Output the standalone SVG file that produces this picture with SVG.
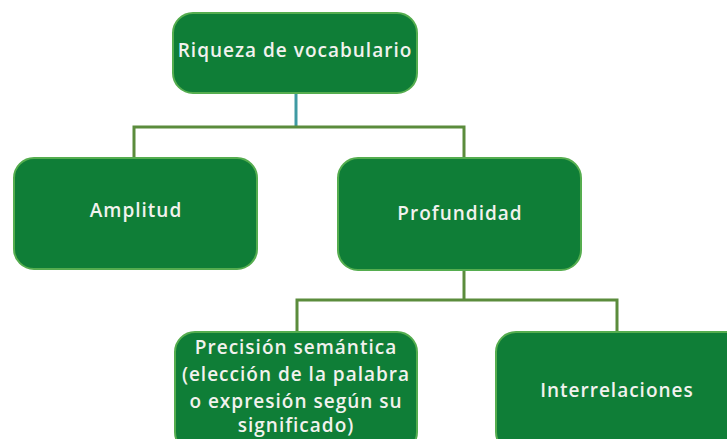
<svg xmlns="http://www.w3.org/2000/svg" width="727" height="439" viewBox="0 0 727 439">
<style>
.box{fill:#0f7e37;stroke:#55ad4f;stroke-width:2}
.t{font-family:"Open Sans","Liberation Sans",sans-serif;font-weight:600;font-size:19px;letter-spacing:1px;fill:#f2f2ee;text-anchor:middle}
.c{fill:none;stroke:#5b8c3c;stroke-width:3}
</style>
<rect width="727" height="439" fill="#ffffff"/>
<g id="connectors">
<line x1="296" y1="93" x2="296" y2="127" stroke="#3f9aa3" stroke-width="3"/>
<path class="c" d="M134 158 V127 H464 V158"/>
<path class="c" d="M464 270 V300"/>
<path class="c" d="M297 332 V300 H617 V332"/>
</g>
<g id="riqueza">
<rect class="box" x="173" y="13" width="244" height="80" rx="20"/>
<text class="t" x="295" y="57">Riqueza de vocabulario</text>
</g>
<g id="amplitud">
<rect class="box" x="14" y="158" width="243" height="111" rx="20"/>
<text class="t" x="136" y="217">Amplitud</text>
</g>
<g id="profundidad">
<rect class="box" x="338" y="158" width="243" height="112" rx="20"/>
<text class="t" x="460" y="220">Profundidad</text>
</g>
<g id="precision">
<rect class="box" x="175" y="332" width="242" height="120" rx="20"/>
<text class="t" x="296" y="354">Precisión semántica</text>
<text class="t" x="296" y="381">(elección de la palabra</text>
<text class="t" x="296" y="408">o expresión según su</text>
<text class="t" x="296" y="432">significado)</text>
</g>
<g id="interrelaciones">
<rect class="box" x="496" y="332" width="250" height="120" rx="20"/>
<text class="t" x="617" y="397">Interrelaciones</text>
</g>
</svg>
